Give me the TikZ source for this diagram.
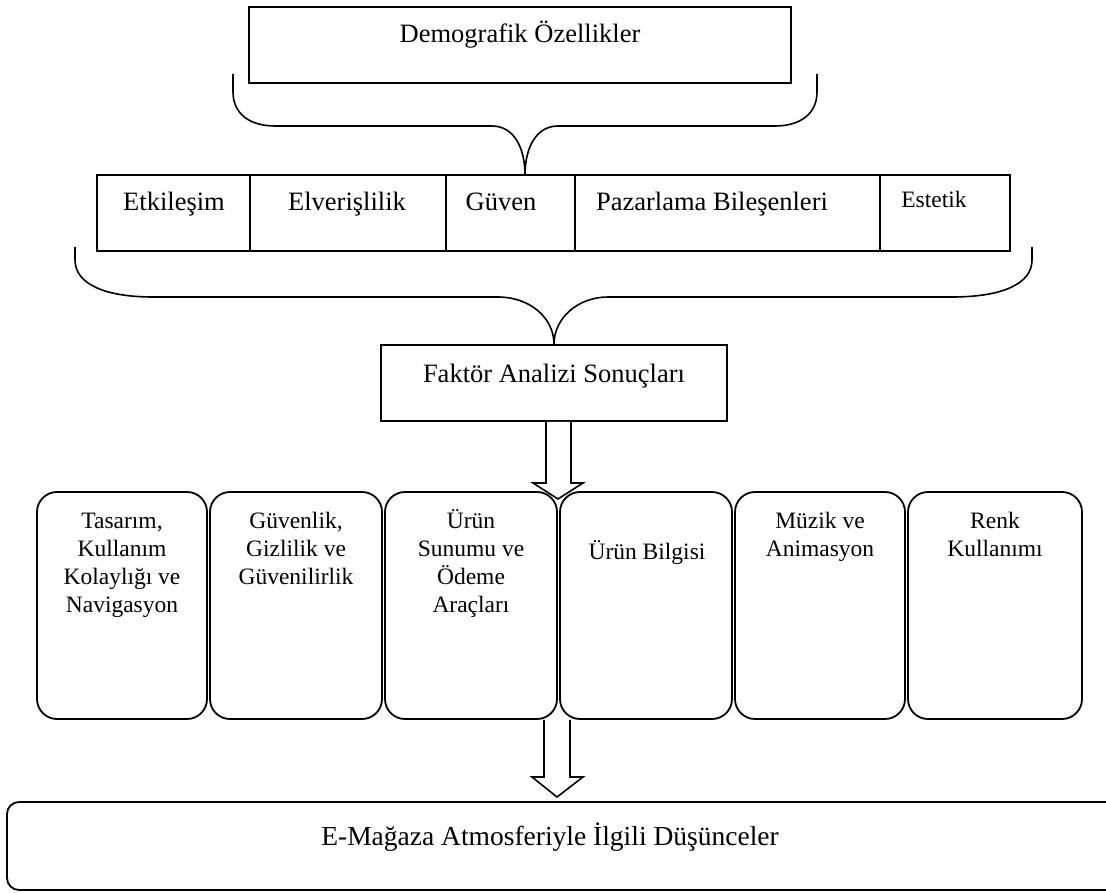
\documentclass[tikz,border=0pt]{standalone}
\usepackage{fontspec}
\setmainfont{Liberation Serif}
\newcommand{\mlines}[1]{\begin{tabular}[t]{@{}c@{}}#1\end{tabular}}
\begin{document}
\begin{tikzpicture}[x=1pt,y=-1pt,
  box/.style={draw, line width=1.6pt, inner sep=0pt},
  rbox/.style={draw, line width=1.8pt, rounded corners=20pt, inner sep=0pt},
  lbl/.style={anchor=base, inner sep=0pt, font=\fontsize{26.5}{30}\selectfont},
  blbl/.style={anchor=base, inner sep=0pt, font=\fontsize{23.5}{28}\selectfont},
  brace/.style={draw, line width=1.6pt},
  barrow/.style={draw, line width=1.6pt, fill=white, line join=miter}
]
\useasboundingbox (0,0) rectangle (1106,893);
\clip (0,0) rectangle (1106,893);

% top box
\node[box, minimum width=542pt, minimum height=76pt] (demo) at (520,45) {};
\node[lbl] (demot) at (520,43) {Demografik Özellikler};

% row of factors
\node[box, minimum width=153pt, minimum height=76pt] (c1) at (173.5,213) {};
\node[box, minimum width=196pt, minimum height=76pt] (c2) at (348,213) {};
\node[box, minimum width=129pt, minimum height=76pt] (c3) at (510.5,213) {};
\node[box, minimum width=305pt, minimum height=76pt] (c4) at (727.5,213) {};
\node[box, minimum width=130pt, minimum height=76pt] (c5) at (945,213) {};
\node[lbl] (t1) at (174,210.5) {Etkileşim};
\node[lbl] (t2) at (347,210.5) {Elverişlilik};
\node[lbl] (t3) at (501,210.5) {Güven};
\node[lbl] (t4) at (712,210.5) {Pazarlama Bileşenleri};
\node[lbl, font=\fontsize{23.5}{28}\selectfont] (t5) at (934,208) {Estetik};

% brace 1
\coordinate (b1l) at (233,74);
\coordinate (b1r) at (817,74);
\coordinate (b1tip) at (525,175);
\draw[brace] (b1l) -- (233,92) .. controls (233,114) and (250,126) .. (275,126)
  -- (492,126) .. controls (514,126) and (525,148) .. (b1tip);
\draw[brace] (b1r) -- (817,92) .. controls (817,114) and (800,126) .. (775,126)
  -- (558,126) .. controls (536,126) and (525,148) .. (b1tip);

% factor analysis box
\node[box, minimum width=346pt, minimum height=76pt] (faktor) at (554,383) {};
\node[lbl] (faktort) at (554,382) {Faktör Analizi Sonuçları};

% brace 2
\coordinate (b2l) at (75,247);
\coordinate (b2r) at (1032,247);
\draw[brace] (b2l) -- (75,260) .. controls (75,284) and (105,297) .. (153,297)
  -- (498,297) .. controls (530,297) and (554,318) .. (faktor.north);
\draw[brace] (b2r) -- (1032,260) .. controls (1032,284) and (1002,297) .. (952,297)
  -- (608,297) .. controls (578,297) and (554,318) .. (faktor.north);

% arrow 1
\coordinate (a1tip) at (558,499);
\draw[barrow] (546,0 |- faktor.south) -- (546,483) -- (533,483) -- (a1tip)
  -- (583,483) -- (571,483) -- (571,0 |- faktor.south);

% rounded factor boxes
\node[rbox, minimum width=170pt, minimum height=227pt] (r1) at (122,605.5) {};
\node[rbox, minimum width=172pt, minimum height=227pt] (r2) at (296,605.5) {};
\node[rbox, minimum width=172pt, minimum height=227pt] (r3) at (471,605.5) {};
\node[rbox, minimum width=172pt, minimum height=227pt] (r4) at (646,605.5) {};
\node[rbox, minimum width=170pt, minimum height=227pt] (r5) at (820,605.5) {};
\node[rbox, minimum width=174pt, minimum height=227pt] (r6) at (995,605.5) {};
\node[blbl] (rt1) at (122,528) {\mlines{Tasarım,\\Kullanım\\Kolaylığı ve\\Navigasyon}};
\node[blbl] (rt2) at (296,528) {\mlines{Güvenlik,\\Gizlilik ve\\Güvenilirlik}};
\node[blbl] (rt3) at (471,528) {\mlines{Ürün\\Sunumu ve\\Ödeme\\Araçları}};
\node[blbl] (rt4) at (647,559) {Ürün Bilgisi};
\node[blbl] (rt5) at (820,528) {\mlines{Müzik ve\\Animasyon}};
\node[blbl] (rt6) at (995,528) {\mlines{Renk\\Kullanımı}};

% arrow 2
\coordinate (a2tip) at (557,797);
\draw[barrow] (544,0 |- r3.south) -- (544,777) -- (532,777) -- (a2tip)
  -- (583,777) -- (570,777) -- (570,0 |- r3.south);

% bottom box
\node[draw, line width=1.8pt, rounded corners=12pt, inner sep=0pt,
  minimum width=1118pt, minimum height=88pt] (emag) at (566,846) {};
\node[lbl, font=\fontsize{27.5}{32}\selectfont] (emagt) at (550,845) {E-Mağaza Atmosferiyle İlgili Düşünceler};
\end{tikzpicture}
\end{document}
